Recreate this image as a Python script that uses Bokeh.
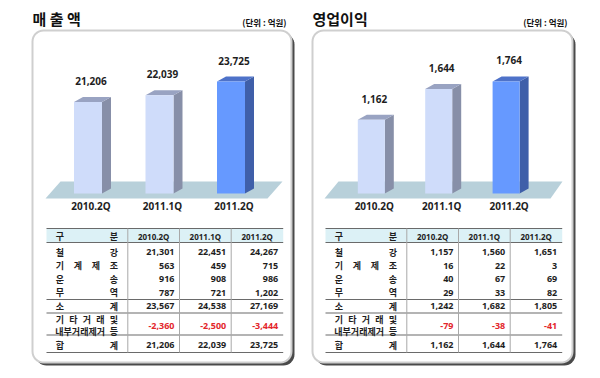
import math
from bokeh.plotting import figure
from bokeh.models import Range1d
from bokeh.core.properties import value
from bokeh.embed import file_html
from bokeh.resources import INLINE

# ---------------- data ----------------
quarters = ["2010.2Q", "2011.1Q", "2011.2Q"]
sales_total = [21206, 22039, 23725]
profit_total = [1162, 1644, 1764]

row_labels = ["철 강", "기 계 제 조", "운 송", "무 역", "소 계",
              "기 타 거 래 및|내부거래제거 등", "합 계"]

sales_steel = [21301, 22451, 24267]
sales_machinery = [563, 459, 715]
sales_transport = [916, 908, 986]
sales_trade = [787, 721, 1202]
sales_subtotal = [23567, 24538, 27169]
sales_elim = [-2360, -2500, -3444]
sales_sum = [21206, 22039, 23725]

profit_steel = [1157, 1560, 1651]
profit_machinery = [16, 22, 3]
profit_transport = [40, 67, 69]
profit_trade = [29, 33, 82]
profit_subtotal = [1242, 1682, 1805]
profit_elim = [-79, -38, -41]
profit_sum = [1162, 1644, 1764]

sales_rows = [sales_steel, sales_machinery, sales_transport, sales_trade,
              sales_subtotal, sales_elim, sales_sum]
profit_rows = [profit_steel, profit_machinery, profit_transport, profit_trade,
               profit_subtotal, profit_elim, profit_sum]

# ---------------- styling / layout ----------------
KR = value("Noto Sans CJK KR")
LAT = value("Noto Sans")
DARK = "#1e1e1e"
RED = "#e3262b"
LIGHT_FRONT, LIGHT_SIDE, LIGHT_TOP = "#cfdcfa", "#878fa8", "#99a3c2"
DARK_FRONT, DARK_SIDE, DARK_TOP = "#6699ff", "#3f5fa9", "#4e72c9"

W, H = 592, 370
p = figure(width=W, height=H, x_range=Range1d(0, W), y_range=Range1d(H, 0),
           output_backend="svg", toolbar_location=None, min_border=0,
           x_axis_type=None, y_axis_type=None)
p.grid.visible = False
p.outline_line_color = None
p.background_fill_color = "white"
p.border_fill_color = "white"


def rrect(x0, y0, x1, y1, r, n=8):
    xs, ys = [], []
    corners = [(x1 - r, y0 + r, -90, 0), (x1 - r, y1 - r, 0, 90),
               (x0 + r, y1 - r, 90, 180), (x0 + r, y0 + r, 180, 270)]
    for cx, cy, a0, a1 in corners:
        for j in range(n + 1):
            a = math.radians(a0 + (a1 - a0) * j / n)
            xs.append(cx + r * math.cos(a))
            ys.append(cy + r * math.sin(a))
    return xs, ys


panels = [
    dict(title="매 출 액", fx0=32, fx1=291, tx=46, bx0=87.5, step=71.5, bw=28,
         vmin=10000, k=0.00816, totals=sales_total, rows=sales_rows,
         floor=(45, 267, 60, 282)),
    dict(title="영업이익", fx0=312, fx1=572, tx=325, bx0=370.8, step=67.4, bw=27,
         vmin=0, k=0.0635, totals=profit_total, rows=profit_rows,
         floor=(324, 550, 338, 562)),
]

BASE = 193.0
FY0, FY1 = 30, 362
DX, DY = 9.0, 5.0

for pi, P in enumerate(panels):
    fx0, fx1 = P["fx0"], P["fx1"]
    # frame with shadow
    sx, sy = rrect(fx0 + 3, FY0 + 3, fx1 + 3, FY1 + 3, 11)
    p.patch(sx, sy, fill_color="#4a4a4a", line_color=None)
    fxs, fys = rrect(fx0, FY0, fx1, FY1, 11)
    p.patch(fxs, fys, fill_color="white", line_color="#cfcfcf", line_width=2)

    # titles
    p.text(x=[fx0], y=[18], text=[P["title"]], text_font=KR, text_font_style="bold",
           text_font_size="15px", text_align="left", text_baseline="middle",
           text_color="#111111")
    p.text(x=[fx1 - 5], y=[21], text=["(단위 : 억원)"], text_font=KR,
           text_font_style="bold", text_font_size="8.5px", text_align="right",
           text_baseline="middle", text_color="#111111")

    # floor
    l, r_, tl, tr = P["floor"]
    p.patch([l, r_, tr, tl], [198, 198, 181, 181], fill_color="#b8d0da", line_color=None)

    # bar scales
    xr, yr = f"bx{pi}", f"by{pi}"
    step, k, vmin = P["step"], P["k"], P["vmin"]
    p.extra_x_ranges[xr] = Range1d((0 - P["bx0"]) / step, (W - P["bx0"]) / step)
    p.extra_y_ranges[yr] = Range1d(vmin + (BASE - H) / k, vmin + (BASE - 0) / k)

    idx = list(range(len(quarters)))
    vals = P["totals"]
    hw = P["bw"] / step / 2
    ddx, ddy = DX / step, DY / k
    fronts = [LIGHT_FRONT, LIGHT_FRONT, DARK_FRONT]
    sides = [LIGHT_SIDE, LIGHT_SIDE, DARK_SIDE]
    tops = [LIGHT_TOP, LIGHT_TOP, DARK_TOP]

    side_xs = [[i + hw, i + hw + ddx, i + hw + ddx, i + hw] for i in idx]
    side_ys = [[vmin, vmin + ddy, v + ddy, v] for v in vals]
    p.patches(side_xs, side_ys, fill_color=sides, line_color=None,
              x_range_name=xr, y_range_name=yr)
    top_xs = [[i - hw, i - hw + ddx, i + hw + ddx, i + hw] for i in idx]
    top_ys = [[v, v + ddy, v + ddy, v] for v in vals]
    p.patches(top_xs, top_ys, fill_color=tops, line_color=None,
              x_range_name=xr, y_range_name=yr)
    p.vbar(x=idx, top=vals, bottom=vmin, width=2 * hw, fill_color=fronts,
           line_color=None, x_range_name=xr, y_range_name=yr)

    p.text(x=[i + 3 / step for i in idx], y=[v + 21 / k for v in vals],
           text=[f"{v:,}" for v in vals], text_font=LAT, text_font_style="bold",
           text_font_size="10px", text_align="center", text_baseline="middle",
           text_color=DARK, x_range_name=xr, y_range_name=yr)
    p.text(x=[i + 3 / step for i in idx], y=[vmin - 12 / k for _ in idx],
           text=quarters, text_font=LAT, text_font_style="bold",
           text_font_size="10px", text_align="center", text_baseline="middle",
           text_color=DARK, x_range_name=xr, y_range_name=yr)

    # ---------------- table ----------------
    tx = P["tx"]
    col_edges = [tx, tx + 81.3, tx + 133.0, tx + 184.7, tx + 236.7]
    HT, HB = 228, 242
    p.quad(left=[tx], right=[col_edges[-1]], top=[HT], bottom=[HB],
           fill_color="#dcf1f6", line_color=None)
    hlines = [HT, HB, 299, 312.5, 334.5, 352]
    p.multi_line([[tx, col_edges[-1]] for _ in hlines], [[h, h] for h in hlines],
                 line_color="#6a6a6a", line_width=1.2)
    p.multi_line([[c, c] for c in col_edges[1:4]], [[HT, 352] for _ in range(3)],
                 line_color="#a8a8a8", line_width=1)

    lab_l, lab_r = tx + 13.3, tx + 67.3

    def draw_label(s, y):
        toks = s.split(" ")
        n = len(toks)
        for j, t in enumerate(toks):
            if n == 1:
                xx, al = lab_l, "center"
            elif j == 0 and len(t) > 1:
                xx, al = lab_l - 4.5, "left"
            else:
                xx, al = lab_l + (lab_r - lab_l) * j / (n - 1), "center"
            p.text(x=[xx], y=[y], text=[t], text_font=KR, text_font_style="bold",
                   text_font_size="9px", text_align=al, text_baseline="middle",
                   text_color=DARK)

    draw_label("구 분", 235.5)
    p.text(x=[(col_edges[c] + col_edges[c + 1]) / 2 for c in (1, 2, 3)],
           y=[235.5] * 3, text=quarters, text_font=LAT, text_font_style="bold",
           text_font_size="8px", text_align="center", text_baseline="middle",
           text_color=DARK)

    row_y = [251.5, 265, 278.5, 292, 305.5, 325.5, 344.5]
    for ri, (lab, rv) in enumerate(zip(row_labels, P["rows"])):
        y = row_y[ri]
        if "|" in lab:
            a, b = lab.split("|")
            draw_label(a, 319)
            draw_label(b, 331)
        else:
            draw_label(lab, y)
        colors = [RED if v < 0 else DARK for v in rv]
        p.text(x=[col_edges[c + 2] - 5 for c in range(3)], y=[y] * 3,
               text=[f"{v:,}" for v in rv], text_font=LAT, text_font_style="bold",
               text_font_size="9px", text_align="right", text_baseline="middle",
               text_color=colors)

open("out.html", "w").write(file_html(p, INLINE))
